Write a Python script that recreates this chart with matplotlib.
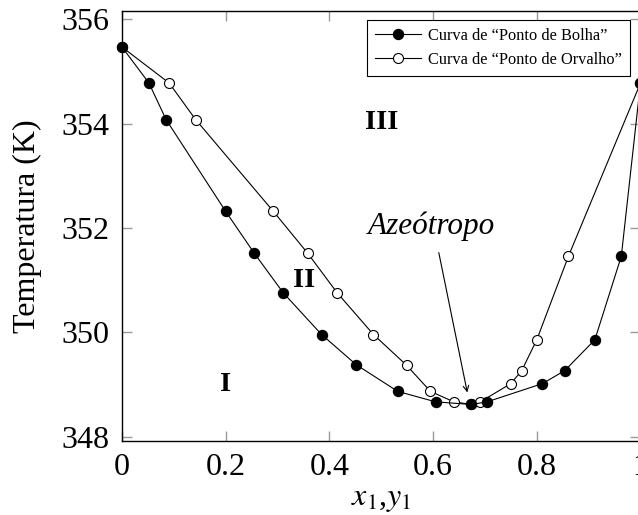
import matplotlib
matplotlib.use("Agg")
import matplotlib.pyplot as plt
from matplotlib.lines import Line2D

plt.rcParams['font.family'] = ['Liberation Serif', 'DejaVu Serif']
plt.rcParams['mathtext.fontset'] = 'stix'

# Bubble-point curve (liquid composition x1)
x_bolha = [0.0, 0.052, 0.085, 0.2, 0.255, 0.311, 0.385, 0.452, 0.532,
           0.605, 0.674, 0.704, 0.811, 0.854, 0.912, 0.963, 1.0]
T_bolha = [355.47, 354.78, 354.08, 352.32, 351.52, 350.76, 349.96, 349.38, 348.87,
           348.67, 348.62, 348.67, 349.02, 349.27, 349.86, 351.46, 354.78]

# Dew-point curve (vapour composition y1)
y_orvalho = [0.0, 0.091, 0.142, 0.292, 0.358, 0.415, 0.485, 0.549, 0.595,
             0.64, 0.674, 0.691, 0.75, 0.771, 0.8, 0.861, 1.0]
T_orvalho = [355.47, 354.78, 354.08, 352.32, 351.52, 350.76, 349.96, 349.37, 348.87,
             348.67, 348.62, 348.67, 349.02, 349.27, 349.86, 351.46, 354.78]

x_ticks = [0, 0.2, 0.4, 0.6, 0.8, 1]
x_tick_labels = ['0', '0.2', '0.4', '0.6', '0.8', '1']
y_ticks = [348, 350, 352, 354, 356]

fig = plt.figure(figsize=(6.38, 5.15), dpi=100)
ax = fig.add_axes([0.1912, 0.1437, 0.8127, 0.8349])

ms = 7.2
ax.plot(y_orvalho, T_orvalho, color='black', lw=0.8, marker='o', ms=ms,
        mfc='white', mec='black', mew=0.8, clip_on=False, zorder=3)
ax.plot(x_bolha, T_bolha, color='black', lw=0.8, marker='o', ms=ms,
        mfc='black', mec='black', clip_on=False, zorder=4)

ax.set_xlim(0, 1)
ax.set_ylim(347.92, 356.16)
ax.set_xticks(x_ticks)
ax.set_xticklabels(x_tick_labels)
ax.set_yticks(y_ticks)
ax.tick_params(direction='in', length=7, width=1, color='#9a9a9a',
               labelsize=23, top=True, right=True, pad=9)
for s in ax.spines.values():
    s.set_linewidth(1)
    s.set_color('black')

ax.set_xlabel(r'$x_1$,$y_1$', fontsize=23, labelpad=2)
ax.set_ylabel('Temperatura (K)', fontsize=23, labelpad=14)

# Region labels
ax.text(0.2, 349.0, 'I', fontsize=20.5, fontweight='bold', ha='center', va='center')
ax.text(0.351, 351.0, 'II', fontsize=20.5, fontweight='bold', ha='center', va='center')
ax.text(0.5, 354.03, 'III', fontsize=20.5, fontweight='bold', ha='center', va='center')

ax.text(0.596, 352.03, 'Azeótropo', fontsize=22.5, style='italic',
        ha='center', va='center')
ax.annotate('', xy=(0.666, 348.85), xytext=(0.611, 351.53),
            arrowprops=dict(arrowstyle='->', color='black', lw=0.8,
                            shrinkA=0, shrinkB=0))

handles = [
    Line2D([], [], color='black', lw=0.8, marker='o', ms=ms, mfc='black', mec='black'),
    Line2D([], [], color='black', lw=0.8, marker='o', ms=ms, mfc='white', mec='black', mew=0.8),
]
leg = ax.legend(handles, ['Curva de “Ponto de Bolha”', 'Curva de “Ponto de Orvalho”'],
                loc='upper right', bbox_to_anchor=(629.7 / 638, 1 - 20 / 515),
                bbox_transform=fig.transFigure, borderaxespad=0,
                fontsize=11.8, fancybox=False, framealpha=1, edgecolor='black',
                handlelength=2.8, handletextpad=0.4, labelspacing=0.45,
                borderpad=0.5, numpoints=1)
leg.get_frame().set_linewidth(0.8)

fig.savefig('out.png', dpi=100)
